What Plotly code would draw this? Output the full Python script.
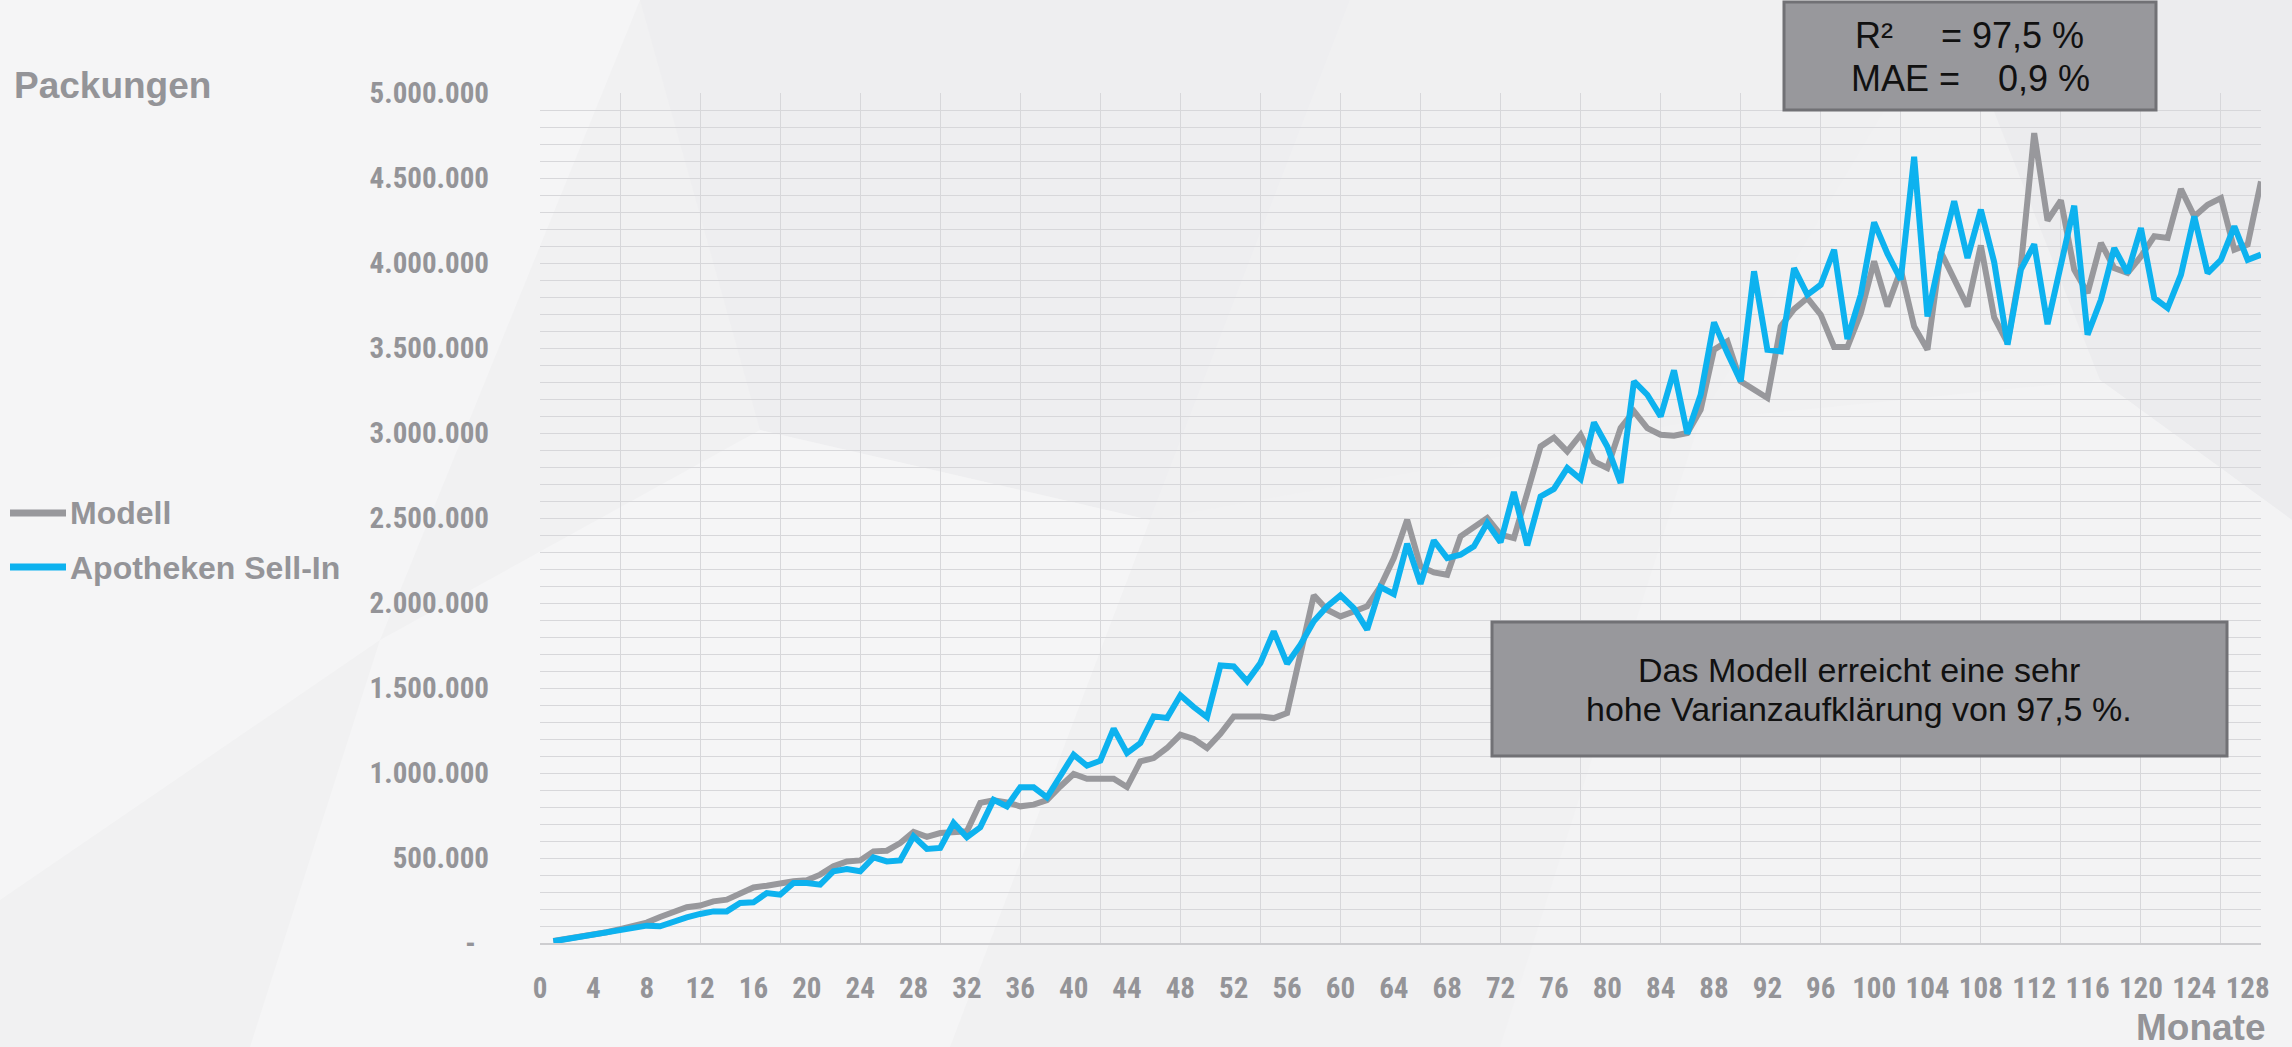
import plotly.graph_objects as go

# ---------------- data ----------------
MONTHS = list(range(1, 130))

MODELL = [
    12000, 24000, 35000, 49000, 63000, 82000, 102000, 120000, 153000, 180000,
    210000, 220000, 245000, 255000, 294000, 327000, 337000, 353000, 363000, 369000,
    402000, 451000, 480000, 486000, 539000, 543000, 588000, 653000, 624000, 647000,
    651000, 657000, 824000, 839000, 827000, 804000, 814000, 840000, 921000, 994000,
    966000, 966000, 966000, 917000, 1068000, 1088000, 1147000, 1225000, 1200000, 1147000,
    1231000, 1333000, 1337000, 1333000, 1323000, 1353000, 1700000, 2045000, 1960000, 1921000,
    1950000, 1980000, 2098000, 2264000, 2490000, 2215000, 2180000, 2166000, 2392000, 2451000,
    2500000, 2402000, 2382000, 2647000, 2921000, 2973000, 2892000, 2990000, 2833000, 2794000,
    3029000, 3127000, 3029000, 2990000, 2984000, 3000000, 3137000, 3490000, 3539000, 3304000,
    3255000, 3206000, 3627000, 3729000, 3794000, 3696000, 3506000, 3506000, 3706000, 4010000,
    3745000, 3960000, 3627000, 3490000, 4065000, 3902000, 3745000, 4103000, 3680000, 3530000,
    3980000, 4764000, 4250000, 4368000, 3961000, 3823000, 4118000, 3970000, 3941000, 4039000,
    4157000, 4147000, 4435000, 4274000, 4343000, 4382000, 4078000, 4108000, 4480000,
]

SELL_IN = [
    10000, 24000, 35000, 49000, 63000, 75000, 88000, 102000, 98000, 127000,
    151000, 171000, 186000, 186000, 235000, 239000, 294000, 284000, 353000, 353000,
    343000, 422000, 435000, 422000, 504000, 480000, 486000, 627000, 553000, 559000,
    706000, 622000, 680000, 843000, 804000, 916000, 916000, 856000, 980000, 1108000,
    1043000, 1072000, 1261000, 1117000, 1176000, 1333000, 1323000, 1457000, 1388000, 1329000,
    1633000, 1627000, 1539000, 1647000, 1833000, 1643000, 1755000, 1892000, 1980000, 2045000,
    1970000, 1843000, 2094000, 2053000, 2349000, 2113000, 2368000, 2264000, 2284000, 2333000,
    2470000, 2357000, 2653000, 2339000, 2627000, 2671000, 2794000, 2729000, 3062000, 2921000,
    2706000, 3304000, 3225000, 3098000, 3368000, 2996000, 3225000, 3651000, 3470000, 3304000,
    3951000, 3490000, 3480000, 3970000, 3813000, 3872000, 4078000, 3553000, 3813000, 4239000,
    4055000, 3902000, 4625000, 3686000, 4050000, 4363000, 4029000, 4314000, 4005000, 3520000,
    3961000, 4110000, 3640000, 3970000, 4337000, 3578000, 3784000, 4088000, 3941000, 4206000,
    3794000, 3735000, 3931000, 4274000, 3941000, 4019000, 4216000, 4019000, 4049000,
]

X_TICKS = list(range(0, 129, 4))
X_LABELS = [str(v) for v in X_TICKS]
Y_TICKS = [0, 500000, 1000000, 1500000, 2000000, 2500000,
           3000000, 3500000, 4000000, 4500000, 5000000]
Y_LABELS = ["-\u00a0\u00a0", "500.000", "1.000.000", "1.500.000", "2.000.000", "2.500.000",
            "3.000.000", "3.500.000", "4.000.000", "4.500.000", "5.000.000"]

SERIES_NAMES = ["Modell", "Apotheken Sell-In"]
Y_TITLE = "Packungen"
X_TITLE = "Monate"
BOX1_LINES = [("R²", "= 97,5 %"), ("MAE =", "0,9 %")]
BOX2_LINES = ["Das Modell erreicht eine sehr", "hohe Varianzaufklärung von 97,5 %."]

# ---------------- style ----------------
W, H = 2292, 1047
L, R, T, B = 540, 31, 93, 104
PW = W - L - R
PH = H - T - B

GRAY = "#98989c"
BLUE = "#0db2ef"
GRID = "#d7d7da"
LABEL = "#949498"
BG = "#f1f1f2"
BOX_FILL = "#98989c"
BOX_LINE = "#717175"

CONDENSED = "Roboto Condensed, Open Sans Condensed, Liberation Sans, sans-serif"
SANS = "Liberation Sans, Arial, Helvetica, sans-serif"


def px(x):
    return (x - L) / PW


def py(y):
    return (H - B - y) / PH


fig = go.Figure()
fig.add_trace(go.Scatter(x=MONTHS, y=MODELL, mode="lines", name=SERIES_NAMES[0],
                         line=dict(color=GRAY, width=6), showlegend=False))
fig.add_trace(go.Scatter(x=MONTHS, y=SELL_IN, mode="lines", name=SERIES_NAMES[1],
                         line=dict(color=BLUE, width=6), showlegend=False))
# helper trace so the overlaid grid axis (every 6 months) is rendered
fig.add_trace(go.Scatter(x=[0, 129], y=[0, 0], xaxis="x2", mode="lines",
                         line=dict(width=0, color="rgba(0,0,0,0)"), hoverinfo="skip",
                         showlegend=False))

tick_font = dict(family=CONDENSED, size=29, color=LABEL, weight="bold")

shapes = []
facets = [
    ([(0, 0), (640, 0), (380, 640), (0, 900)], "#f5f5f6"),
    ([(640, 0), (1350, 0), (1150, 520), (760, 430)], "#eeeef0"),
    ([(380, 640), (760, 430), (1150, 520), (950, 1047), (250, 1047)], "#f5f5f6"),
    ([(1350, 0), (1950, 0), (1700, 420), (1150, 520)], "#f0f0f1"),
    ([(1950, 0), (2292, 0), (2292, 520), (2100, 380)], "#ececee"),
    ([(1700, 420), (2100, 380), (2292, 520), (2292, 1047), (1500, 1047)], "#f3f3f4"),
]
for pts, col in facets:
    path = "M " + " L ".join(f"{px(x):.5f},{py(y):.5f}" for x, y in pts) + " Z"
    shapes.append(dict(type="path", xref="paper", yref="paper", path=path,
                       fillcolor=col, line=dict(width=0), layer="below"))

# legend swatches
shapes.append(dict(type="line", xref="paper", yref="paper", x0=px(10), x1=px(66),
                   y0=py(513), y1=py(513), line=dict(color=GRAY, width=7)))
shapes.append(dict(type="line", xref="paper", yref="paper", x0=px(10), x1=px(66),
                   y0=py(567), y1=py(567), line=dict(color=BLUE, width=7)))
# text boxes
shapes.append(dict(type="rect", xref="paper", yref="paper", x0=px(1784), x1=px(2156),
                   y0=py(110), y1=py(2), fillcolor=BOX_FILL, line=dict(color=BOX_LINE, width=3)))
shapes.append(dict(type="rect", xref="paper", yref="paper", x0=px(1492), x1=px(2227),
                   y0=py(756), y1=py(622), fillcolor=BOX_FILL, line=dict(color=BOX_LINE, width=3)))

ann = []


def add_text(text, x, y, font, xanchor="left", yanchor="middle"):
    ann.append(dict(text=text, x=px(x), y=py(y), xref="paper", yref="paper",
                    xanchor=xanchor, yanchor=yanchor, showarrow=False, font=font,
                    borderpad=0))


title_font = dict(family=SANS, size=37, color=LABEL, weight="bold")
legend_font = dict(family=SANS, size=32, color=LABEL, weight="bold")
box1_font = dict(family=SANS, size=36, color="#111111")
box2_font = dict(family=SANS, size=34, color="#111111")

add_text(Y_TITLE, 13, 86, title_font)
add_text(X_TITLE, 2267, 1027, title_font, xanchor="right")
add_text(SERIES_NAMES[0], 69, 513, legend_font)
add_text(SERIES_NAMES[1], 69, 568, legend_font)
add_text(BOX1_LINES[0][0], 1854, 35, box1_font)
add_text(BOX1_LINES[0][1], 1940, 35, box1_font)
add_text(BOX1_LINES[1][0], 1850, 78, box1_font)
add_text(BOX1_LINES[1][1], 1997, 78, box1_font)
add_text(BOX2_LINES[0], 1859, 670, box2_font, xanchor="center")
add_text(BOX2_LINES[1], 1859, 709, box2_font, xanchor="center")

fig.update_layout(
    width=W, height=H, autosize=False,
    margin=dict(l=L, r=R, t=T, b=B, pad=0),
    paper_bgcolor=BG, plot_bgcolor="rgba(0,0,0,0)",
    showlegend=False,
    xaxis=dict(range=[0, 129], tickmode="array", tickvals=X_TICKS, ticktext=X_LABELS,
               showgrid=False, zeroline=False, showline=True, linecolor="#cdcdd0",
               linewidth=2, ticks="", ticklabelstandoff=18, tickfont=tick_font,
               tickangle=0, fixedrange=True),
    xaxis2=dict(overlaying="x", anchor="y", range=[0, 129], tickmode="linear", tick0=0,
                dtick=6, showgrid=True, gridcolor=GRID, gridwidth=1, showticklabels=False,
                zeroline=False, ticks="", showline=False, fixedrange=True),
    yaxis=dict(range=[0, 5000000], tickmode="array", tickvals=Y_TICKS, ticktext=Y_LABELS,
               showgrid=True, gridcolor=GRID, gridwidth=1, zeroline=False, ticks="",
               ticklabelstandoff=50, tickfont=tick_font, fixedrange=True,
               minor=dict(tickmode="linear", tick0=0, dtick=100000, showgrid=True,
                          gridcolor=GRID, gridwidth=1, ticks="")),
    shapes=shapes,
    annotations=ann,
)

fig.write_html("out.html")
